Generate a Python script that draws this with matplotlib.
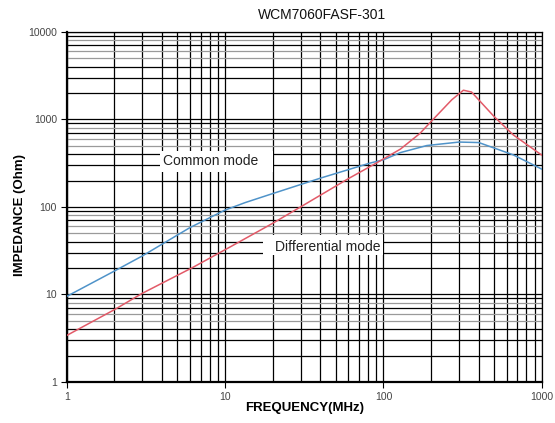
import numpy as np
import matplotlib
matplotlib.use('Agg')
import matplotlib.pyplot as plt
from matplotlib.patches import Rectangle
from matplotlib.ticker import FixedLocator, NullFormatter

plt.rcParams['font.family'] = ['Liberation Sans', 'DejaVu Sans']

# common mode impedance curve (blue)
freq_cm = [1, 2, 3, 4, 6, 10, 13.4, 20, 40, 82, 100, 128, 188, 300, 400, 660, 1000]
z_cm = [9.5, 18.5, 27.5, 37.5, 58, 92, 112, 142, 213, 316, 345, 417, 502, 550, 543, 393, 270]

# differential mode impedance curve (red)
freq_dm = [1, 2, 3, 6.3, 10.8, 20, 30, 60, 90, 128, 170, 200, 270, 320, 360, 500, 660, 1000]
z_dm = [3.4, 6.7, 10.3, 20.5, 35, 65, 100, 210, 316, 457, 690, 944, 1670, 2150, 2050, 1075, 665, 390]

x_ticks = [1, 10, 100, 1000]
y_ticks = [1, 10, 100, 1000, 10000]
title = 'WCM7060FASF-301'

fig = plt.figure(figsize=(5.55, 4.23), dpi=100)
ax = fig.add_axes([0.1202, 0.0969, 0.856, 0.828])
ax.set_xscale('log')
ax.set_yscale('log')
ax.set_xlim(1, 1000)
ax.set_ylim(1, 10000)

# grid: verticals all black, some horizontal minors gray
for dec in [1, 10, 100]:
    for m in range(1, 10):
        ax.axvline(dec * m, color='black', lw=0.9, zorder=1)
for dec in [1, 10, 100, 1000]:
    for m in range(1, 10):
        c = '#9a9a9a' if m in (5, 6, 8) else 'black'
        ax.axhline(dec * m, color=c, lw=0.9, zorder=1)
ax.axhline(10000, color='black', lw=0.9, zorder=1)
ax.axvline(1000, color='black', lw=0.9, zorder=1)

ax.plot(freq_cm, z_cm, color='#4f93c9', lw=1.1, zorder=3)
ax.plot(freq_dm, z_dm, color='#e25a68', lw=1.1, zorder=3)

# white label boxes (axes fraction)
ax.add_patch(Rectangle((0.196, 0.600), 0.238, 0.060, transform=ax.transAxes,
                       facecolor='white', edgecolor='none', zorder=2))
ax.add_patch(Rectangle((0.414, 0.363), 0.252, 0.057, transform=ax.transAxes,
                       facecolor='white', edgecolor='none', zorder=2))
ax.text(4.06, 330, 'Common mode', ha='left', va='center', fontsize=10,
        color='#222222', zorder=4)
ax.text(20.7, 35.2, 'Differential mode', ha='left', va='center', fontsize=10,
        color='#222222', zorder=4)

ax.xaxis.set_major_locator(FixedLocator(x_ticks))
ax.yaxis.set_major_locator(FixedLocator(y_ticks))
ax.set_xticklabels([str(t) for t in x_ticks])
ax.set_yticklabels([str(t) for t in y_ticks])
ax.xaxis.set_minor_formatter(NullFormatter())
ax.yaxis.set_minor_formatter(NullFormatter())
ax.tick_params(which='minor', length=0)
ax.tick_params(which='major', length=4, width=0.8, labelsize=7.5,
               labelcolor='#444444', pad=3)

for s in ['left', 'bottom']:
    ax.spines[s].set_linewidth(1.6)
for s in ['right', 'top']:
    ax.spines[s].set_linewidth(0.9)

fig.text(0.580, 0.965, title, ha='center', va='center', fontsize=10, color='#111111')
ax.set_xlabel('FREQUENCY(MHz)', fontsize=9.5, fontweight='bold', labelpad=0)
ax.set_ylabel('IMPEDANCE (Ohm)', fontsize=9.5, fontweight='bold')
ax.yaxis.set_label_coords(-0.085, 0.477)

fig.savefig('out.png', dpi=100)
